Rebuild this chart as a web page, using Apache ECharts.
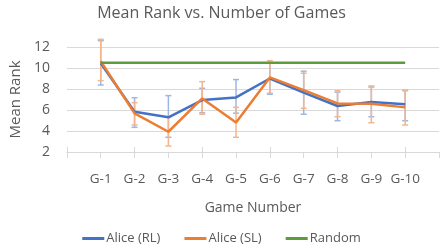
<!DOCTYPE html>
<html><head><meta charset="utf-8">
<script src="https://cdn.jsdelivr.net/npm/echarts@6/dist/echarts.min.js"></script>
<style>html,body{margin:0;padding:0;background:#fff}#c{width:443px;height:249px}</style>
</head><body><div id="c"></div>
<script>
const categories = ['G-1','G-2','G-3','G-4','G-5','G-6','G-7','G-8','G-9','G-10'];
const rlMean = [10.45, 5.84, 5.3, 6.95, 7.2, 9.0, 7.65, 6.38, 6.76, 6.54];
const rlLow  = [8.38, 4.35, 3.4, 5.74, 5.7, 7.5, 5.6, 4.98, 5.36, 4.98];
const rlHigh = [12.6, 7.17, 7.37, 8.07, 8.9, 10.5, 9.7, 7.7, 8.19, 7.84];
const slMean = [10.65, 5.68, 3.93, 7.1, 4.8, 9.1, 7.9, 6.63, 6.6, 6.25];
const slLow  = [8.8, 4.57, 2.57, 5.6, 3.4, 7.6, 6.16, 5.36, 4.79, 4.57];
const slHigh = [12.73, 6.7, 5.3, 8.7, 6.25, 10.7, 9.5, 7.84, 8.29, 7.9];
const randomVal = [10.5, 10.5, 10.5, 10.5, 10.5, 10.5, 10.5, 10.5, 10.5, 10.5];
const yTicks = [2, 4, 6, 8, 10, 12];

const axisCats = [''].concat(categories, ['']);
const pad = arr => [null].concat(arr, [null]);
const font = "'Open Sans', 'Liberation Sans', sans-serif";

function errSeries(low, high, color) {
  const data = categories.map((c, i) => [i + 1, low[i], high[i]]);
  return {
    type: 'custom', silent: true, z: 1,
    renderItem: function (params, api) {
      const x = api.value(0);
      const lo = api.coord([x, api.value(1)]);
      const hi = api.coord([x, api.value(2)]);
      const w = 3;
      const st = {stroke: color, lineWidth: 1.5};
      return {type: 'group', children: [
        {type: 'line', shape: {x1: lo[0], y1: lo[1], x2: hi[0], y2: hi[1]}, style: st},
        {type: 'line', shape: {x1: lo[0]-w, y1: lo[1], x2: lo[0]+w, y2: lo[1]}, style: st},
        {type: 'line', shape: {x1: hi[0]-w, y1: hi[1], x2: hi[0]+w, y2: hi[1]}, style: st}
      ]};
    },
    data: data
  };
}

const chart = echarts.init(document.getElementById('c'), null, {renderer: 'canvas'});
chart.setOption({
  animation: false,
  title: {text: 'Mean Rank vs. Number of Games', left: 'center', top: 0,
    textStyle: {fontFamily: font, fontSize: 16, fontWeight: 'normal', color: '#595959'}},
  grid: {left: 53, right: 4, top: 47, bottom: 97},
  legend: {bottom: -1, left: 'center', itemGap: 24, itemWidth: 22, itemHeight: 3,
    textStyle: {fontFamily: font, fontSize: 13, color: '#595959', padding: [0, 0, 0, -3]},
    data: [
      {name: 'Alice (RL)', icon: 'rect'},
      {name: 'Alice (SL)', icon: 'rect'},
      {name: 'Random', icon: 'rect'}
    ]},
  xAxis: [{
    type: 'category', data: axisCats, boundaryGap: false,
    name: 'Game Number', nameLocation: 'middle', nameGap: 49,
    nameTextStyle: {fontFamily: font, fontSize: 14, color: '#595959'},
    axisLine: {lineStyle: {color: '#d9d9d9', width: 1}},
    axisTick: {show: true, length: 6, lineStyle: {color: '#d9d9d9'}},
    axisLabel: {fontFamily: font, fontSize: 13.5, color: '#595959', margin: 20, interval: 0},
    splitLine: {show: false}
  }, {
    type: 'category', data: axisCats, boundaryGap: false, position: 'bottom',
    axisLine: {show: false},
    axisTick: {show: true, inside: true, length: 5, lineStyle: {color: '#d9d9d9'}},
    axisLabel: {show: false}
  }],
  yAxis: {
    type: 'value', min: 2, max: 12, interval: 2,
    name: 'Mean Rank', nameLocation: 'middle', nameGap: 36,
    nameTextStyle: {fontFamily: font, fontSize: 15, color: '#595959'},
    axisLine: {show: false}, axisTick: {show: false},
    axisLabel: {fontFamily: font, fontSize: 14, color: '#595959', margin: 17},
    splitLine: {lineStyle: {color: '#d9d9d9', width: 1}}
  },
  series: [
    Object.assign(errSeries(rlLow, rlHigh, '#9fb6e2'), {name: 'rlErr'}),
    Object.assign(errSeries(slLow, slHigh, '#f5b48c'), {name: 'slErr'}),
    {name: 'Alice (RL)', type: 'line', data: pad(rlMean), symbol: 'none', z: 3,
      lineStyle: {color: '#4472C4', width: 2.5}, itemStyle: {color: '#4472C4'}},
    {name: 'Alice (SL)', type: 'line', data: pad(slMean), symbol: 'none', z: 4,
      lineStyle: {color: '#ED7D31', width: 2.5}, itemStyle: {color: '#ED7D31'}},
    {name: 'Random', type: 'line', data: pad(randomVal), symbol: 'none', z: 5,
      lineStyle: {color: '#5E9B3C', width: 2.5}, itemStyle: {color: '#5E9B3C'}}
  ]
});
</script></body></html>
